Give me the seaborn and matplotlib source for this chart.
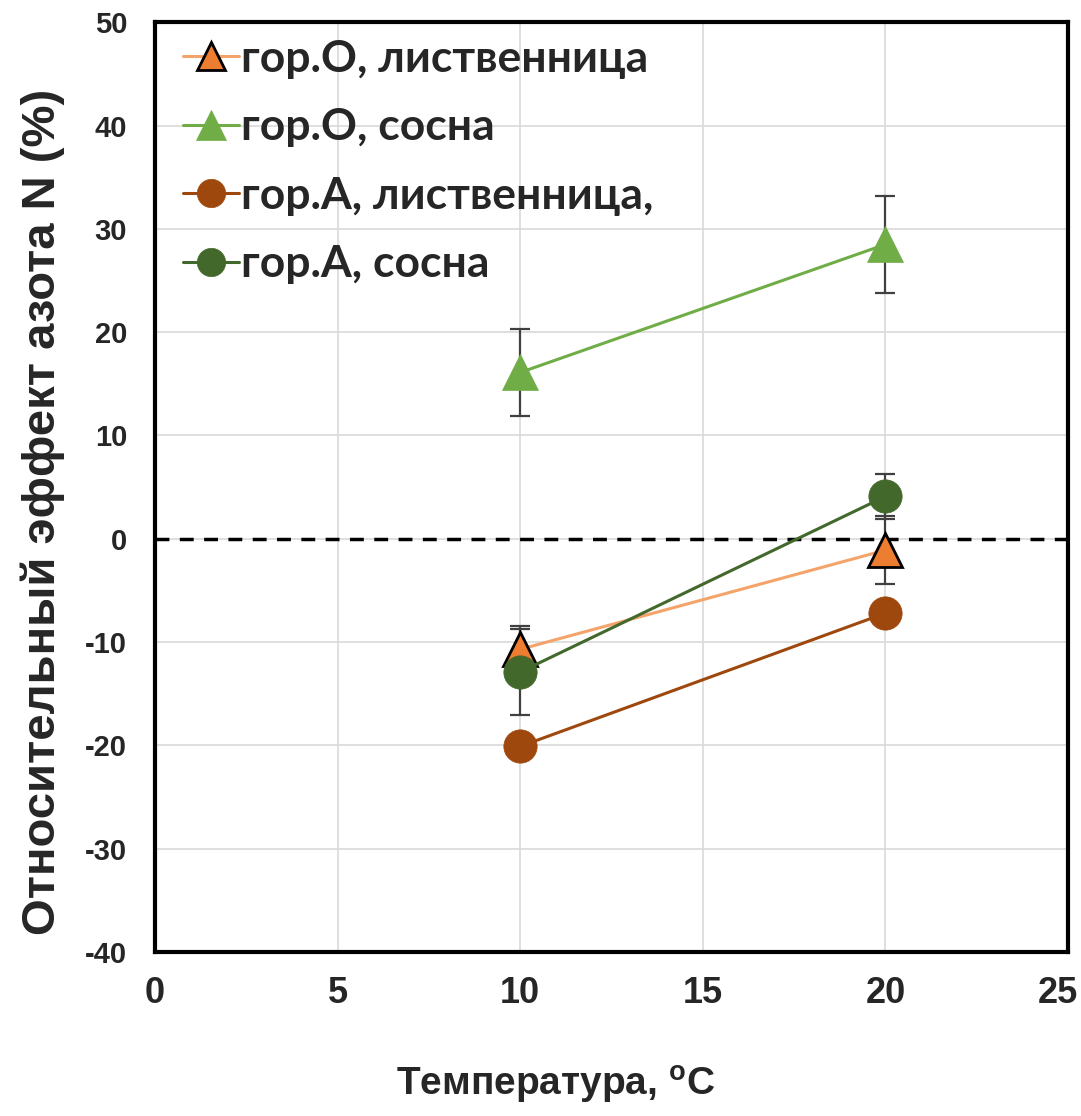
import numpy as np
import pandas as pd
import matplotlib
matplotlib.use("Agg")
import matplotlib.pyplot as plt
import matplotlib.transforms as mtransforms
import seaborn as sns

# ---- data ----
temperature = [10, 20]
series_names = ["гор.О, лиственница", "гор.О, сосна", "гор.А, лиственница,", "гор.А, сосна"]
o_larch = [-10.7, -1.1]
o_larch_err = [2.3, 3.3]
o_pine = [16.1, 28.5]
o_pine_err = [4.2, 4.7]
a_larch = [-20.1, -7.2]
a_larch_err = [1.0, 1.0]
a_pine = [-12.9, 4.1]
a_pine_err = [4.2, 2.2]
x_ticks = [0, 5, 10, 15, 20, 25]
y_ticks = [-40, -30, -20, -10, 0, 10, 20, 30, 40, 50]

values = [o_larch, o_pine, a_larch, a_pine]
errors = [o_larch_err, o_pine_err, a_larch_err, a_pine_err]

df = pd.DataFrame({
    "T": temperature * 4,
    "val": sum(values, []),
    "err": sum(errors, []),
    "series": [s for s in series_names for _ in temperature],
})

sns.set_theme(style="whitegrid")
plt.rcParams['font.family'] = ['Liberation Sans', 'DejaVu Sans']
plt.rcParams['axes.unicode_minus'] = False

line_colors = ["#F4A46A", "#70AD47", "#9E480E", "#43682B"]
marker_face = ["#ED7D31", "#70AD47", "#9E480E", "#43682B"]
marker_edge = ["black", "#70AD47", "#9E480E", "#43682B"]
markers = ["^", "^", "o", "o"]
msizes = [24, 26, 24, 24]

fig = plt.figure(figsize=(10.81, 11.16), dpi=100)
ax = fig.add_axes([0.1434, 0.147, 0.988 - 0.1434, 0.980 - 0.147])

ax.axhline(0, color="black", lw=2.5, ls=(0, (4, 3)), zorder=2)

for i, name in enumerate(series_names):
    d = df[df["series"] == name]
    ax.errorbar(d["T"], d["val"], yerr=d["err"], fmt="none", ecolor="#404040",
                elinewidth=1.6, capsize=7, capthick=1.6, zorder=3 + i * 0.1)
    sns.lineplot(data=d, x="T", y="val", ax=ax, color=line_colors[i], lw=2.2,
                 marker=markers[i], markersize=msizes[i],
                 markerfacecolor=marker_face[i], markeredgecolor=marker_edge[i],
                 markeredgewidth=2.0 if i == 0 else 0.5, label=name, zorder=4 + i * 0.1)

ax.set_xlim(0, 25)
ax.set_ylim(-40, 50)
ax.set_xticks(x_ticks)
ax.set_yticks(y_ticks)
ax.grid(True, color="#D9D9D9", lw=1.2)
for sp in ax.spines.values():
    sp.set_color("black")
    sp.set_linewidth(3)
ax.tick_params(axis="both", length=0)
ax.tick_params(axis="x", pad=17, labelsize=26)
ax.tick_params(axis="y", pad=20, labelsize=21)
for lab in ax.get_xticklabels() + ax.get_yticklabels():
    lab.set_fontweight("bold")
# keep the last x tick label inside the canvas
last = ax.get_xticklabels()[-1]
last.set_transform(last.get_transform() + mtransforms.ScaledTranslation(-0.10, 0, fig.dpi_scale_trans))

ax.set_xlabel("Температура, $^{\\mathregular{o}}$C", fontsize=28, fontweight="bold")
ax.xaxis.set_label_coords(0.439, -0.120)
ax.set_ylabel("Относительный эффект азота N (%)", fontsize=34, fontweight="bold")
ax.yaxis.set_label_coords(-0.0986, 0.473)

leg = ax.legend(loc="upper left", bbox_to_anchor=(0.031, 0.982), borderaxespad=0, borderpad=0,
                frameon=False, markerscale=0.85, handlelength=1.25,
                handletextpad=0.05, labelspacing=0.64,
                prop={"family": ["Lato", "DejaVu Sans"], "weight": "bold", "size": 32})

fig.savefig("out.png", dpi=100)
